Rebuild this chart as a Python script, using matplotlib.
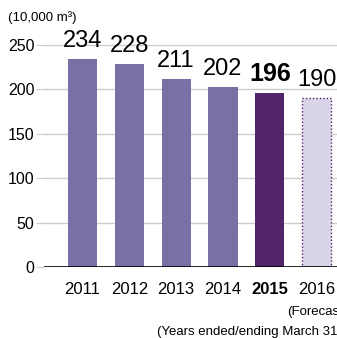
import matplotlib
matplotlib.use('Agg')
import matplotlib.pyplot as plt
from matplotlib import font_manager

# --- Data ---
years = ['2011', '2012', '2013', '2014', '2015', '2016']
volumes = [234, 228, 211, 202, 196, 190]
y_ticks = [0, 50, 100, 150, 200, 250]

# --- Style ---
BAR_COLOR = '#7b70a6'
HIGHLIGHT_COLOR = '#52256b'
FORECAST_FILL = '#d9d4e7'
GRID_COLOR = '#cccccc'

names = {f.name for f in font_manager.fontManager.ttflist}
FONT = 'Liberation Sans Narrow' if 'Liberation Sans Narrow' in names else 'Liberation Sans'
plt.rcParams['font.family'] = [FONT, 'DejaVu Sans']

fig = plt.figure(figsize=(3.37, 3.38), dpi=100)
ax = fig.add_axes([44 / 337, 71 / 338, 1 - 44 / 337 + 0.001, 240 / 338])

x = list(range(len(years)))
for i, (yr, v) in enumerate(zip(years, volumes)):
    if yr == '2015':
        ax.bar(i, v, width=0.62, color=HIGHLIGHT_COLOR, zorder=3)
    elif yr == '2016':
        ax.bar(i, v, width=0.62, color=FORECAST_FILL, edgecolor=HIGHLIGHT_COLOR,
               linestyle=(0, (1, 1.5)), linewidth=1.0, zorder=3)
    else:
        ax.bar(i, v, width=0.62, color=BAR_COLOR, zorder=3)

    bold = yr == '2015'
    ax.text(i, v + 8, str(v), ha='center', va='bottom',
            fontsize=17 if not bold else 18, fontweight='bold' if bold else 'normal',
            color='black', zorder=4)

ax.set_xlim(-0.82, 5.44)
ax.set_ylim(0, 270)
ax.set_yticks(y_ticks)
ax.set_yticklabels([str(t) for t in y_ticks], fontsize=11.5)
ax.tick_params(axis='y', length=6, width=0.8, color=GRID_COLOR, pad=1)
ax.set_xticks(x)
ax.set_xticklabels(years, fontsize=12)
for lbl in ax.get_xticklabels():
    if lbl.get_text() == '2015':
        lbl.set_fontweight('bold')
ax.tick_params(axis='x', length=0, pad=11)

for t in y_ticks[1:]:
    ax.axhline(t, color=GRID_COLOR, linewidth=1.0, zorder=1)
ax.axhline(0, color='black', linewidth=1.2, zorder=4)

for side in ['top', 'right', 'left', 'bottom']:
    ax.spines[side].set_visible(False)

fig.text(8 / 337, 1 - 18 / 338, '(10,000 m³)', fontsize=9.5, va='center', ha='left')
fig.text(287 / 337, 1 - 312 / 338, '(Forecast)', fontsize=9.5, va='center', ha='left')
fig.text(157 / 337, 1 - 332 / 338, '(Years ended/ending March 31)', fontsize=9.5,
         va='center', ha='left')

fig.savefig('out.png', dpi=100)
